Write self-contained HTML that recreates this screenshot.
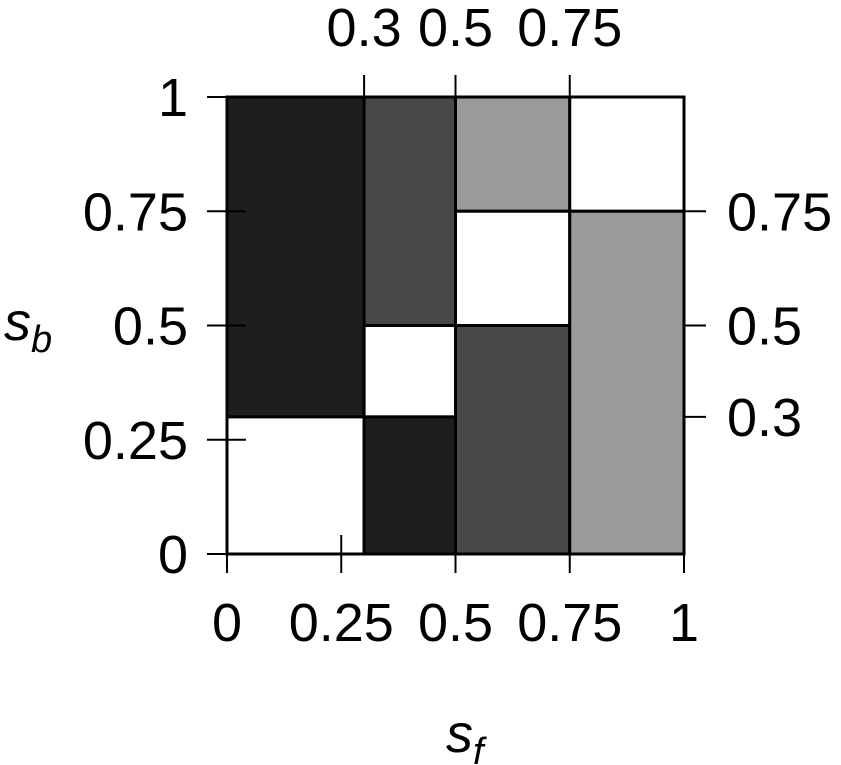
<!DOCTYPE html>
<html><head><meta charset="utf-8"><style>body{margin:0;background:#fff}svg{display:block}text{font-family:"Liberation Sans",sans-serif;font-size:54px;fill:#000}</style></head>
<body>
<svg width="841" height="765">
<g id="cells"></g><g id="axes"></g>
<text x="4" y="340" font-style="italic">s<tspan font-size="38" dy="12">b</tspan></text>
<text x="446" y="752" font-style="italic">s<tspan font-size="38" dy="12">f</tspan></text>
</svg>
<script>
const cellX0=[0,0,0.3,0.3,0.3,0.5,0.5,0.5,0.75,0.75];
const cellX1=[0.3,0.3,0.5,0.5,0.5,0.75,0.75,0.75,1,1];
const cellY0=[0.3,0,0.5,0.3,0,0.75,0.5,0,0.75,0];
const cellY1=[1,0.3,1,0.5,0.3,1,0.75,0.5,1,0.75];
const cellLevel=[3,0,2,0,3,1,0,2,0,1];
const bottomTicks=[0,0.25,0.5,0.75,1];
const bottomLabels=["0","0.25","0.5","0.75","1"];
const leftTicks=[0,0.25,0.5,0.75,1];
const leftLabels=["0","0.25","0.5","0.75","1"];
const topTicks=[0.3,0.5,0.75];
const topLabels=["0.3","0.5","0.75"];
const rightTicks=[0.3,0.5,0.75];
const rightLabels=["0.3","0.5","0.75"];
const colors=["#ffffff","#9a9a9a","#484848","#1e1e1e"];
const X=v=>227+v*457, Y=v=>554-v*457;
const NS="http://www.w3.org/2000/svg";
const cells=document.getElementById('cells'), axes=document.getElementById('axes');
function mk(p,tag,attrs){const e=document.createElementNS(NS,tag);for(const k in attrs)e.setAttribute(k,attrs[k]);p.appendChild(e);return e;}
cellX0.forEach((x0,i)=>{
  const r=mk(cells,'rect',{x:X(x0),y:Y(cellY1[i]),width:X(cellX1[i])-X(x0),height:Y(cellY0[i])-Y(cellY1[i]),fill:colors[cellLevel[i]],stroke:'#000','stroke-width':3});
  
  
});
function tick(x1,y1,x2,y2){const l=mk(axes,'line',{x1,y1,x2,y2,stroke:'#000','stroke-width':2});
  
  }
function label(x,y,t,anchor){const e=mk(axes,'text',{x,y,'text-anchor':anchor});e.textContent=t;
  
  }
bottomTicks.forEach((v,i)=>{tick(X(v),535,X(v),573);label(X(v),641,bottomLabels[i],'middle');});
leftTicks.forEach((v,i)=>{tick(207,Y(v),246,Y(v));label(188,Y(v)+19,leftLabels[i],'end');});
topTicks.forEach((v,i)=>{tick(X(v),75,X(v),97);label(X(v),46,topLabels[i],'middle');});
rightTicks.forEach((v,i)=>{tick(684,Y(v),706,Y(v));label(727,Y(v)+19,rightLabels[i],'start');});
</script>
</body></html>
